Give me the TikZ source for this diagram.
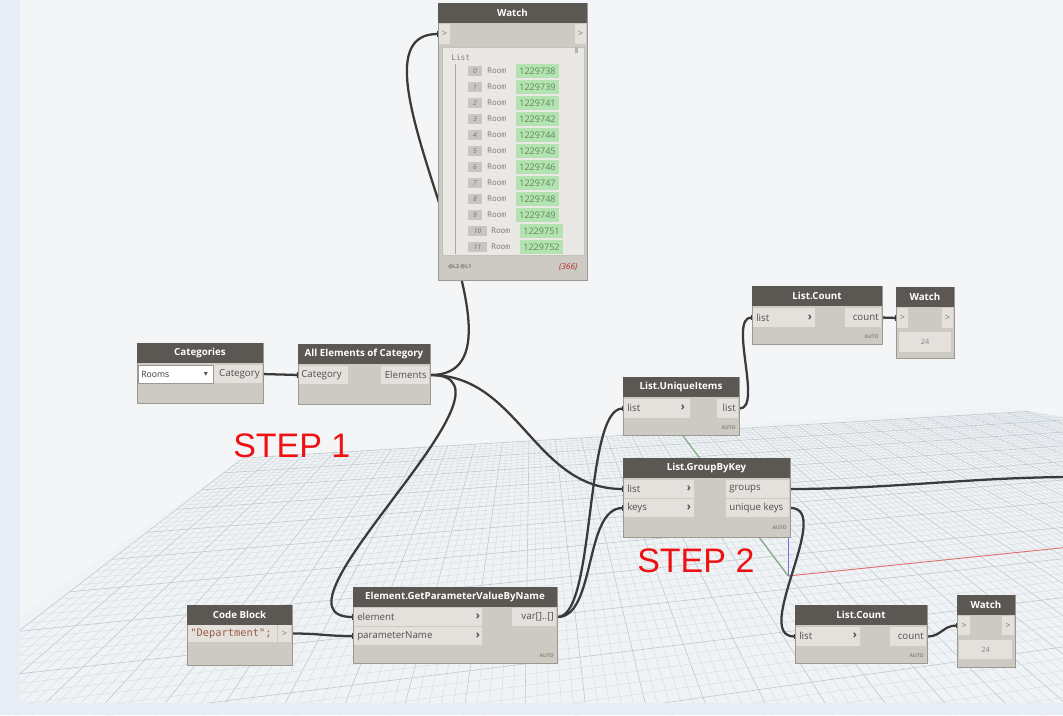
\documentclass[tikz,border=0pt]{standalone}
\usepackage{fontspec}
\setmainfont{Open Sans}
\newfontfamily\nodefont{Open Sans}
\newfontfamily\stepfont{Liberation Sans}
\newfontfamily\monofont{DejaVu Sans Mono}
\newfontfamily\symfont{DejaVu Sans}
\usetikzlibrary{arrows.meta}
\pgfdeclarelayer{bglayer}
\pgfdeclarelayer{wirelayer}
\pgfsetlayers{bglayer,wirelayer,main}
\definecolor{bgc}{HTML}{F4F5F6}
\definecolor{stripc}{HTML}{E8EDF5}
\definecolor{planec}{HTML}{F0F3F6}
\definecolor{gridminor}{HTML}{D6DDE2}
\definecolor{gridmajor}{HTML}{BFC8CE}
\definecolor{nodehead}{HTML}{5B5753}
\definecolor{nodebody}{HTML}{CDC9C3}
\definecolor{nodecell}{HTML}{E4E1DC}
\definecolor{nodeborder}{HTML}{9C9892}
\definecolor{celltext}{HTML}{505050}
\definecolor{autoc}{HTML}{8A8680}
\definecolor{wirec}{HTML}{3A3A3A}
\definecolor{panelc}{HTML}{EAE8E4}
\definecolor{idxc}{HTML}{C9C6C1}
\definecolor{idxtxt}{HTML}{77746F}
\definecolor{roomc}{HTML}{85827D}
\definecolor{greenc}{HTML}{B4E3B2}
\definecolor{greentxt}{HTML}{5A8A58}
\definecolor{stepred}{HTML}{EE1111}
\definecolor{codec}{HTML}{9A5B45}
\definecolor{countc}{HTML}{B02828}
\definecolor{xaxis}{HTML}{E07070}
\definecolor{yaxis}{HTML}{70A870}
\definecolor{zaxis}{HTML}{7070E0}
\tikzset{
  sz/.style 2 args={minimum width=#1*0.75pt, minimum height=#2*0.75pt},
  blk/.style={inner sep=0pt, outer sep=0pt, anchor=north west},
  nbox/.style={blk, draw=nodeborder, line width=0.5pt, fill=nodebody},
  nhead/.style={blk, fill=nodehead},
  ncell/.style={blk, fill=nodecell},
  htxt/.style={text=white, inner sep=0pt, font=\nodefont\bfseries\fontsize{7.3}{8}\selectfont},
  ctxt/.style={text=celltext, inner sep=0pt, font=\nodefont\fontsize{7.3}{8}\selectfont},
  ltxt/.style={ctxt, anchor=west},
  rtxt/.style={ctxt, anchor=east},
  chev/.style={text=celltext, inner sep=0pt, font=\nodefont\bfseries\fontsize{8.5}{9}\selectfont},
  wgt/.style={text=celltext!80, inner sep=0pt, font=\nodefont\fontsize{6.5}{7}\selectfont},
  valbox/.style={blk, fill=nodecell, text=celltext!70, font=\nodefont\fontsize{5.5}{6}\selectfont},
  autotxt/.style={text=autoc, inner sep=0pt, anchor=east, font=\nodefont\bfseries\fontsize{3.8}{4}\selectfont},
  wire/.style={draw=wirec, line width=1.7pt, arrows={Rectangle[length=1.6pt,width=4.2pt]-Rectangle[length=1.6pt,width=4.2pt]}},
  gmin/.style={draw=gridminor, line width=0.35pt},
  gmaj/.style={draw=gridmajor, line width=0.45pt},
  steptxt/.style={text=stepred, inner sep=0pt, anchor=base west, font=\stepfont\fontsize{25.5}{28}\selectfont},
}
\newcommand\dynnode[6]{%
  \node[nbox, sz={#4}{#5}] (#1) at (#2,#3) {};
  \node[nhead, sz={#4}{20}] (#1h) at (#2,#3) {};
  \node[htxt] (#1t) at (#1h.center) {#6};
}
\newcommand\dcell[5]{\node[ncell, sz={#4}{#5}] (#1) at (#2,#3) {};}
\begin{document}
\begin{tikzpicture}[x=0.75pt,y=-0.75pt]
\useasboundingbox (0,0) rectangle (1063,715);
\begin{pgfonlayer}{bglayer}
\fill[bgc] (0,0) rectangle (1063,715);
% ---- perspective grid plane
\begin{scope}
  \clip (243,458) -- (1003,407) -- (1063,417) -- (1063,715) -- (0,715) -- (0,630.2) -- cycle;
  \fill[planec] (0,300) rectangle (1063,715);
  \foreach \k in {0,...,185}{%
    \pgfmathsetmacro\tv{\k*0.00165}%
    \pgfmathsetmacro\gx{(\tv*4000+243)/(\tv+1)}%
    \pgfmathsetmacro\gy{(\tv*235+458)/(\tv+1)}%
    \pgfmathsetmacro\hx{532+6*(\gx-532)}%
    \pgfmathsetmacro\hy{235+6*(\gy-235)}%
    \pgfmathtruncatemacro\mj{mod(\k,5)==0 ? 1 : 0}%
    \ifnum\mj=1 \draw[gmaj] (\gx,\gy) -- (\hx,\hy);\else \draw[gmin] (\gx,\gy) -- (\hx,\hy);\fi
  }
  \foreach \k in {0,...,70}{%
    \pgfmathsetmacro\sv{-\k*0.0125}%
    \pgfmathsetmacro\qx{(\sv*532+243)/(\sv+1)}%
    \pgfmathsetmacro\qy{(\sv*235+458)/(\sv+1)}%
    \pgfmathtruncatemacro\mj{mod(\k,5)==0 ? 1 : 0}%
    \ifnum\mj=1 \draw[gmaj] (\qx,\qy) -- (4000,235);\else \draw[gmin] (\qx,\qy) -- (4000,235);\fi
  }
  \draw[xaxis, line width=0.7pt] (788,576) -- (1070,547);
  \draw[yaxis, line width=0.7pt] (788,576) -- (680,432);
  \draw[zaxis, line width=0.7pt] (788,576) -- (788,525);
\end{scope}
\fill[stripc] (0,0) rectangle (20,715);
\fill[stripc] (0,703) rectangle (1063,715);
\end{pgfonlayer}
\coordinate (offR) at (1075,477);
% Watch (top)
\dynnode{wa}{438}{3}{149}{277}{Watch}
\dcell{waIn}{439}{24}{11}{20}
\dcell{waOut}{575}{24}{11}{20}
\node[wgt] (waInT) at (waIn.center) {>};
\node[wgt] (waOutT) at (waOut.center) {>};
\node[blk, fill=panelc, draw=nodeborder!60, line width=0.4pt, sz={142}{208}] (waP) at (442,47) {};
\node[anchor=west, inner sep=0pt, text=roomc, font=\monofont\fontsize{5.9}{6}\selectfont] (waL) at (451,58) {List};
\draw[roomc!70, line width=0.5pt] (455,64) -- (455,254);
\fill[roomc!60] (575,47) rectangle (578,53);
\foreach \i/\nv in {0/1229738,1/1229739,2/1229741,3/1229742,4/1229744,5/1229745,6/1229746,7/1229747,8/1229748,9/1229749,10/1229751,11/1229752}{%
  \pgfmathsetmacro\yy{71+16*\i}%
  \ifnum\i<10
    \node[blk, fill=idxc, sz={14}{10}, text=idxtxt, font=\nodefont\itshape\fontsize{5}{5}\selectfont] (wi\i) at (468,\yy-5) {\i};
    \node[anchor=west, inner sep=0pt, text=roomc, font=\monofont\fontsize{5.9}{6}\selectfont] (wr\i) at (487,\yy) {Room};
    \node[blk, fill=greenc, sz={43}{14}, text=greentxt, font=\nodefont\fontsize{6.8}{7}\selectfont] (wn\i) at (516,\yy-7) {\nv};
  \else
    \node[blk, fill=idxc, sz={19}{10}, text=idxtxt, font=\nodefont\itshape\fontsize{5}{5}\selectfont] (wi\i) at (468,\yy-5) {\i};
    \node[anchor=west, inner sep=0pt, text=roomc, font=\monofont\fontsize{5.9}{6}\selectfont] (wr\i) at (491,\yy) {Room};
    \node[blk, fill=greenc, sz={43}{14}, text=greentxt, font=\nodefont\fontsize{6.8}{7}\selectfont] (wn\i) at (520,\yy-7) {\nv};
  \fi
}
\node[anchor=west, inner sep=0pt, text=celltext!80, font=\nodefont\bfseries\fontsize{4}{5}\selectfont] (waLv) at (448,267) {@L2 @L1};
\node[anchor=east, inner sep=0pt, text=countc, font=\nodefont\itshape\fontsize{6}{7}\selectfont] (waC) at (578,267) {\{366\}};
% Categories
\dynnode{ca}{137}{343}{126}{60}{Categories}
\node[blk, fill=white, draw=nodeborder, line width=0.4pt, sz={75}{18}] (caDD) at (138,365) {};
\node[ltxt, text=black!80, font=\nodefont\fontsize{6.5}{7}\selectfont] (caDDt) at (141,374) {Rooms};
\node[inner sep=0pt, text=celltext, font=\symfont\fontsize{6}{6}\selectfont] (caArr) at (206,374) {▾};
\dcell{caOut}{214}{365}{48}{18}
\node[rtxt] (caOutT) at (260,374) {Category};
% All Elements of Category
\dynnode{ae}{298}{344}{132}{60}{All Elements of Category}
\dcell{aeIn}{299}{366}{49}{18}
\node[ltxt] (aeInT) at (301,375) {Category};
\dcell{aeOut}{381}{366}{48}{18}
\node[rtxt] (aeOutT) at (427,375) {Elements};
% List.Count (top)
\dynnode{lc}{752}{286}{130}{58}{List.Count}
\dcell{lcIn}{753}{308}{62}{19}
\node[ltxt] (lcInT) at (756,317.5) {list};
\node[chev] (lcInC) at (810,317.5) {›};
\dcell{lcOut}{845}{308}{36}{19}
\node[rtxt] (lcOutT) at (879,317.5) {count};
\node[autotxt] (lcA) at (879,337) {AUTO};
% Watch (top right)
\dynnode{wb}{896}{287}{58}{71}{Watch}
\dcell{wbIn}{897}{308}{11}{20}
\dcell{wbOut}{942}{308}{11}{20}
\node[wgt] (wbInT) at (wbIn.center) {>};
\node[wgt] (wbOutT) at (wbOut.center) {>};
\node[valbox, sz={52}{20}] (wbV) at (899,332) {24};
% List.UniqueItems
\dynnode{ui}{623}{377}{116}{58}{List.UniqueItems}
\dcell{uiIn}{624}{399}{66}{19}
\node[ltxt] (uiInT) at (627,408) {list};
\node[chev] (uiInC) at (683,408) {›};
\dcell{uiOut}{717}{399}{21}{19}
\node[rtxt] (uiOutT) at (736,408) {list};
\node[autotxt] (uiA) at (736,428) {AUTO};
% List.GroupByKey
\dynnode{gb}{623}{458}{167}{79}{List.GroupByKey}
\dcell{gbL}{624}{480}{70}{18}
\node[ltxt] (gbLT) at (627,489) {list};
\node[chev] (gbLC) at (689,489) {›};
\dcell{gbK}{624}{499}{70}{18}
\node[ltxt] (gbKT) at (627,508) {keys};
\node[chev] (gbKC) at (689,508) {›};
\dcell{gbG}{726}{480}{63}{18}
\node[ltxt] (gbGT) at (729,489) {groups};
\dcell{gbU}{726}{499}{63}{18}
\node[ltxt] (gbUT) at (729,508) {unique keys};
\node[autotxt] (gbA) at (787,528) {AUTO};
% Element.GetParameterValueByName
\dynnode{gp}{353}{587}{204}{76}{Element.GetParameterValueByName}
\dcell{gpE}{354}{608}{128}{18}
\node[ltxt] (gpET) at (357,617) {element};
\node[chev] (gpEC) at (478,617) {›};
\dcell{gpP}{354}{627}{128}{18}
\node[ltxt] (gpPT) at (357,636) {parameterName};
\node[chev] (gpPC) at (478,636) {›};
\dcell{gpV}{512}{608}{44}{18}
\node[rtxt] (gpVT) at (554,617) {var[]..[]};
\node[autotxt] (gpA) at (554,656) {AUTO};
% Code Block
\dynnode{cb}{187}{605}{105}{60}{Code Block}
\dcell{cbT}{188}{625}{89}{17}
\node[anchor=west, inner sep=0pt, text=codec, font=\monofont\fontsize{7.8}{8}\selectfont] (cbTT) at (190,634) {"Department";};
\dcell{cbO}{278}{625}{13}{17}
\node[wgt] (cbOT) at (cbO.center) {>};
% List.Count (bottom)
\dynnode{lcb}{795}{605}{132}{58}{List.Count}
\dcell{lcbIn}{796}{627}{64}{19}
\node[ltxt] (lcbInT) at (799,636) {list};
\node[chev] (lcbInC) at (855,636) {›};
\dcell{lcbOut}{890}{627}{36}{19}
\node[rtxt] (lcbOutT) at (924,636) {count};
\node[autotxt] (lcbA) at (924,656) {AUTO};
% Watch (bottom right)
\dynnode{wc}{957}{595}{58}{72}{Watch}
\dcell{wcIn}{958}{616}{12}{19}
\dcell{wcOut}{1002}{616}{12}{19}
\node[wgt] (wcInT) at (wcIn.center) {>};
\node[wgt] (wcOutT) at (wcOut.center) {>};
\node[valbox, sz={53}{19}] (wcV) at (959,640) {24};
% ---- wires (behind the nodes)
\begin{pgfonlayer}{wirelayer}
\draw[wire] (aeOut.east) .. controls +(125,0) and +(-110,0) .. (waIn.west);
\draw[wire] (caOut.east) -- (aeIn.west);
\draw[wire] (cbO.east) .. controls +(30,0) and +(-30,0) .. (gpP.west);
\draw[wire] (lcOut.east) -- (wbIn.west);
\draw[wire] (lcbOut.east) .. controls +(15,0) and +(-15,0) .. (wcIn.west);
\draw[wire] (gbG.east) .. controls +(100,0) and +(-100,0) .. (offR);
\draw[wire] (gbU.east) .. controls +(45,0) and +(-45,0) .. (lcbIn.west);
\draw[wire] (uiOut.east) .. controls +(25,0) and +(-25,0) .. (lcIn.west);
\draw[wire] (gpV.east) .. controls +(40,0) and +(-40,0) .. (uiIn.west);
\draw[wire] (gpV.east) .. controls +(40,0) and +(-40,0) .. (gbK.west);
\draw[wire] (aeOut.east) .. controls +(90,0) and +(-90,0) .. (gbL.west);
\draw[wire] (aeOut.east) .. controls +(110,0) and +(-100,0) .. (gpE.west);
\end{pgfonlayer}
% ---- labels
\node[steptxt] (step1) at (233,457) {STEP 1};
\node[steptxt] (step2) at (637,572) {STEP 2};
\end{tikzpicture}
\end{document}
